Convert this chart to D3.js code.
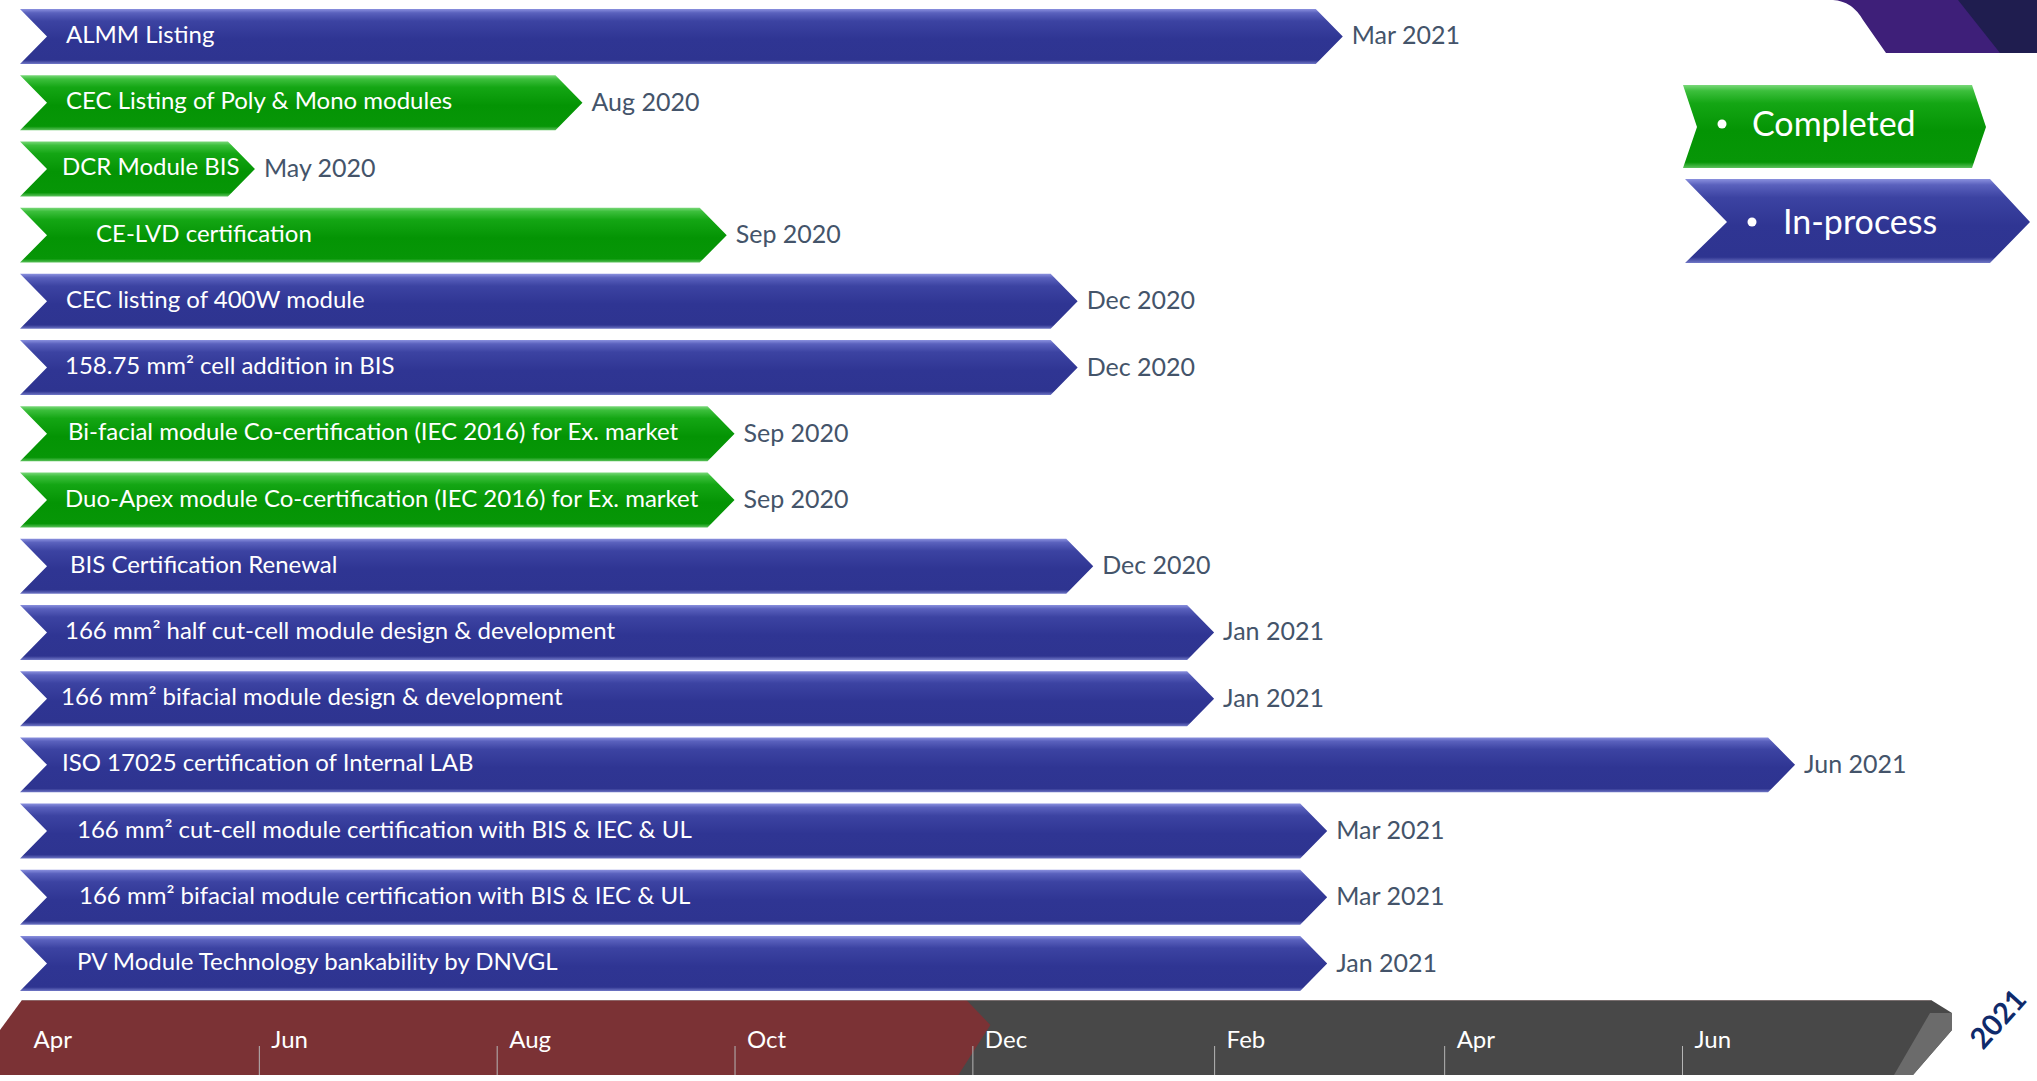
<!DOCTYPE html>
<html>
<head>
<meta charset="utf-8">
<script src="https://cdn.jsdelivr.net/npm/d3@7"></script>
<style>
  body { margin: 0; background: #fff; }
  text { font-family: Lato, "Open Sans", sans-serif; }
</style>
</head>
<body>
<div id="chart"></div>
<script>
// tasks, top to bottom
var tasks = [
    "ALMM Listing",
    "CEC Listing of Poly & Mono modules",
    "DCR Module BIS",
    "CE-LVD certification",
    "CEC listing of 400W module",
    "158.75 mm\u00b2 cell addition in BIS",
    "Bi-facial module Co-certification (IEC 2016) for Ex. market",
    "Duo-Apex module Co-certification (IEC 2016) for Ex. market",
    "BIS Certification Renewal",
    "166 mm\u00b2 half cut-cell module design & development",
    "166 mm\u00b2 bifacial module design & development",
    "ISO 17025 certification of Internal LAB",
    "166 mm\u00b2 cut-cell module certification with BIS & IEC & UL",
    "166 mm\u00b2 bifacial module certification with BIS & IEC & UL",
    "PV Module Technology bankability by DNVGL"
];
var startDate = "2020-04-01";
// where each arrow ends
var endDates = [
    "2021-03-06", "2020-08-23", "2020-05-31", "2020-09-29", "2020-12-28",
    "2020-12-28", "2020-10-01", "2020-10-01", "2021-01-01", "2021-02-01",
    "2021-02-01", "2021-06-30", "2021-03-02", "2021-03-02", "2021-03-02"
];
var endLabels = [
    "Mar 2021", "Aug 2020", "May 2020", "Sep 2020", "Dec 2020",
    "Dec 2020", "Sep 2020", "Sep 2020", "Dec 2020", "Jan 2021",
    "Jan 2021", "Jun 2021", "Mar 2021", "Mar 2021", "Jan 2021"
];
var taskStatus = [
    "wip", "done", "done", "done", "wip",
    "wip", "done", "done", "wip", "wip",
    "wip", "wip", "wip", "wip", "wip"
];
var tickDates = ["2020-04-01", "2020-06-01", "2020-08-01", "2020-10-01",
                 "2020-12-01", "2021-02-01", "2021-04-01", "2021-06-01"];
var tickLabels = ["Apr", "Jun", "Aug", "Oct", "Dec", "Feb", "Apr", "Jun"];
var legendLabels = ["Completed", "In-process"];
var yearLabel = "2021";

// layout: where each task's text starts inside its arrow
var labelX = [66, 66, 62, 96, 66, 65, 68, 65, 70, 65, 61, 62, 77, 79, 77];

var W = 2037, H = 1081;
var parse = d3.timeParse("%Y-%m-%d");

var svg = d3.select("#chart").append("svg")
    .attr("width", W)
    .attr("height", H);

var defs = svg.append("defs");
function grad(id, stops) {
    var g = defs.append("linearGradient").attr("id", id)
        .attr("x1", 0).attr("y1", 0).attr("x2", 0).attr("y2", 1);
    stops.forEach(function (s) {
        g.append("stop").attr("offset", s[0]).attr("stop-color", s[1]);
    });
}
grad("gBlue", [[0, "#8a90de"], [0.07, "#5a61bd"], [0.22, "#3c43a2"], [0.55, "#2f3593"], [0.93, "#2e3490"], [1, "#7077c6"]]);
grad("gGreen", [[0, "#7ad87a"], [0.07, "#3cbf3c"], [0.22, "#14a614"], [0.55, "#049404"], [0.93, "#079607"], [1, "#5cc25c"]]);

var x = d3.scaleTime()
    .domain([parse("2020-04-01"), parse("2021-06-01")])
    .range([21, 1682]);

var y = d3.scaleBand()
    .domain(d3.range(tasks.length))
    .range([9, 991])
    .paddingInner(0.17);

var notch = 27, tip = 27;
function chevron(x0, x1, top, h, n, t) {
    return "M" + x0 + "," + top +
        "L" + (x1 - t) + "," + top +
        "L" + x1 + "," + (top + h / 2) +
        "L" + (x1 - t) + "," + (top + h) +
        "L" + x0 + "," + (top + h) +
        "L" + (x0 + n) + "," + (top + h / 2) + "Z";
}

// top-right corner decoration
svg.append("path")
    .attr("d", "M1833,0 Q1852,1 1863,20 L1886,53 L2037,53 L2037,0 Z")
    .attr("fill", "#3e1f79");
svg.append("path")
    .attr("d", "M1958,0 L2037,0 L2037,53 L2000,53 Z")
    .attr("fill", "#1f1d4f");

// bars
var rows = svg.selectAll(".task")
    .data(tasks)
    .enter().append("g")
    .attr("class", "task");

rows.append("path")
    .attr("d", function (d, i) {
        return chevron(x(parse(startDate)) - 1, x(parse(endDates[i])), y(i), y.bandwidth(), notch, tip);
    })
    .attr("fill", function (d, i) { return taskStatus[i] == "done" ? "url(#gGreen)" : "url(#gBlue)"; });

rows.append("text")
    .attr("x", function (d, i) { return labelX[i]; })
    .attr("y", function (d, i) { return y(i) + y.bandwidth() / 2 - 3; })
    .attr("dominant-baseline", "central")
    .attr("fill", "#fff")
    .style("font-size", "24px")
    .text(function (d) { return d; });

rows.append("text")
    .attr("x", function (d, i) { return x(parse(endDates[i])) + 9; })
    .attr("y", function (d, i) { return y(i) + y.bandwidth() / 2 - 2; })
    .attr("dominant-baseline", "central")
    .attr("fill", "#44546a")
    .style("font-size", "25px")
    .text(function (d, i) { return endLabels[i]; });

// timeline ribbon
var axTop = 1000, axBot = 1075;
var redEnd = x(parse("2020-12-01"));
var greyEnd = 1952;
svg.append("path")
    .attr("d", "M" + (redEnd - 20) + "," + axTop + "L" + (greyEnd - 21) + "," + axTop +
        "L" + greyEnd + "," + (axTop + 13) + "L" + greyEnd + "," + (axTop + 30) +
        "L" + (greyEnd - 39) + "," + axBot + "L" + (redEnd - 20) + "," + axBot + "Z")
    .attr("fill", "#484848");
svg.append("path")
    .attr("d", "M" + (greyEnd - 22) + "," + (axTop + 13) + "L" + greyEnd + "," + (axTop + 13) +
        "L" + greyEnd + "," + (axTop + 30) + "L" + (greyEnd - 39) + "," + axBot +
        "L" + (greyEnd - 58) + "," + axBot + "Z")
    .attr("fill", "#6b6b6b");
svg.append("path")
    .attr("d", "M22," + axTop + "L" + (redEnd - 6) + "," + axTop +
        "L" + (redEnd + 18) + "," + (axTop + 25) + "L" + (redEnd - 14) + "," + axBot +
        "L0," + axBot + "L0," + (axTop + 30) + "Z")
    .attr("fill", "#7b3235");
svg.append("line")
    .attr("x1", 22).attr("x2", greyEnd - 21)
    .attr("y1", axTop + 0.5).attr("y2", axTop + 0.5)
    .attr("stroke", "#9a8a8a").attr("stroke-width", 1).attr("opacity", 0.6);

var axis = d3.axisBottom(x)
    .tickValues(tickDates.map(parse))
    .tickFormat(function (d, i) { return tickLabels[i]; })
    .tickSize(29);

var gx = svg.append("g")
    .attr("transform", "translate(0,1046)")
    .call(axis);
gx.select(".domain").remove();
gx.selectAll(".tick line")
    .attr("stroke", "#b5b5b5")
    .attr("opacity", function (d, i) { return i == 0 ? 0 : 1; });
gx.selectAll(".tick text")
    .attr("x", 12)
    .attr("y", -8)
    .attr("dy", null)
    .attr("text-anchor", "start")
    .attr("dominant-baseline", "central")
    .attr("fill", "#fff")
    .style("font-family", "Lato, 'Open Sans', sans-serif")
    .style("font-size", "24px");

svg.append("text")
    .attr("transform", "translate(1997,1018) rotate(-48)")
    .attr("text-anchor", "middle")
    .attr("dominant-baseline", "central")
    .attr("fill", "#0f2a6b")
    .style("font-size", "29px")
    .style("font-weight", "bold")
    .text(yearLabel);

// legend
var legendShapes = [
    { d: "M1683,85 L1972,85 L1986,127 L1972,168 L1683,168 L1697,127 Z", fill: "url(#gGreen)", bx: 1722, tx: 1752, cy: 122 },
    { d: "M1685,179 L1990,179 L2030,222 L1990,263 L1685,263 L1727,222 Z", fill: "url(#gBlue)", bx: 1752, tx: 1783, cy: 220 }
];
var lg = svg.selectAll(".legend")
    .data(legendLabels)
    .enter().append("g")
    .attr("class", "legend");
lg.append("path")
    .attr("d", function (d, i) { return legendShapes[i].d; })
    .attr("fill", function (d, i) { return legendShapes[i].fill; });
lg.append("circle")
    .attr("cx", function (d, i) { return legendShapes[i].bx; })
    .attr("cy", function (d, i) { return legendShapes[i].cy + 2; })
    .attr("r", 4.5)
    .attr("fill", "#fff");
lg.append("text")
    .attr("x", function (d, i) { return legendShapes[i].tx; })
    .attr("y", function (d, i) { return legendShapes[i].cy; })
    .attr("dominant-baseline", "central")
    .attr("fill", "#fff")
    .style("font-size", "34px")
    .text(function (d) { return d; });
</script>
</body>
</html>
